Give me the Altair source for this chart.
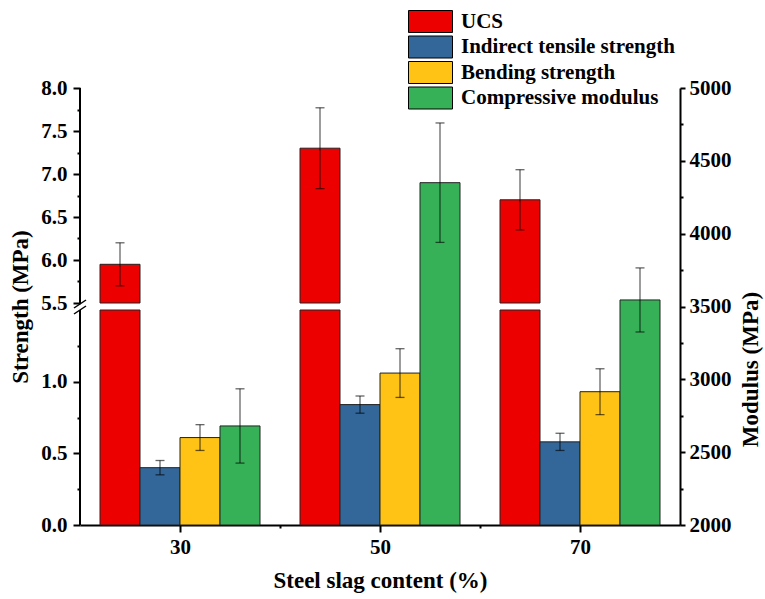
import altair as alt
import pandas as pd

# ---------------- data ----------------
categories = [30, 50, 70]
series_names = ["UCS", "Indirect tensile strength", "Bending strength", "Compressive modulus"]
series_colors = ["#EC0000", "#336699", "#FEC314", "#37B157"]

ucs_values = [5.95, 7.30, 6.70]
ucs_errors = [0.25, 0.47, 0.35]
tensile_values = [0.40, 0.84, 0.58]
tensile_errors = [0.05, 0.06, 0.06]
bending_values = [0.61, 1.06, 0.93]
bending_errors = [0.09, 0.17, 0.16]
modulus_values = [2680, 4350, 3545]
modulus_errors = [255, 410, 220]

strength_tick_labels = ["0.0", "0.5", "1.0", "5.5", "6.0", "6.5", "7.0", "7.5", "8.0"]
strength_minor_ticks = [0.25, 0.75, 1.25, 5.75, 6.25, 6.75, 7.25, 7.75]
modulus_ticks = [2000, 2500, 3000, 3500, 4000, 4500, 5000]
modulus_minor_ticks = [2250, 2750, 3250, 3750, 4250, 4750]
x_minor_ticks = [40, 60]
x_domain = [20, 80]
lower_range = [0.0, 1.5]
upper_range = [5.5, 8.0]
modulus_domain = [2000, 5000]

# ---------------- layout ----------------
W, H = 600, 437
SEG = 215
GAP = H - 2 * SEG
BAR = 4.0
K1 = SEG / (lower_range[1] - lower_range[0])
K2 = SEG / (upper_range[1] - upper_range[0])
FONT = "Liberation Serif"
AXIS_TEXT = dict(labelFont=FONT, labelFontSize=21, labelFontWeight="bold", labelColor="black",
                 titleFont=FONT, titleFontSize=23, titleFontWeight="bold", titleColor="black",
                 tickColor="black", tickWidth=2, domainColor="black", domainWidth=2, grid=False)


def disp_py(v):
    if v <= lower_range[1]:
        return (v - lower_range[0]) * K1
    return SEG + GAP + (v - upper_range[0]) * K2


def disp_expr(e):
    return (f"(({e}) <= {lower_range[1]} ? (({e}) - {lower_range[0]}) * {K1} : "
            f"{SEG + GAP} + (({e}) - {upper_range[0]}) * {K2})")


rows = []
for idx, (name, vals, errs) in enumerate(zip(series_names[:3],
                                             [ucs_values, tensile_values, bending_values],
                                             [ucs_errors, tensile_errors, bending_errors])):
    for c, v, e in zip(categories, vals, errs):
        rows.append(dict(cat=c, series=name, idx=idx, value=v, err=e))
sdf = pd.DataFrame(rows)

mdf = pd.DataFrame(dict(cat=categories, series=series_names[3], idx=3,
                        value=modulus_values, err=modulus_errors))

seg_df = pd.DataFrame(dict(x=[x_domain[0]] * 2,
                           y0=[disp_py(lower_range[0]), disp_py(upper_range[0])],
                           y1=[disp_py(lower_range[1]), disp_py(upper_range[1])]))
mid = (disp_py(lower_range[1]) + disp_py(upper_range[0])) / 2
px = (x_domain[1] - x_domain[0]) / W
brk_df = pd.DataFrame(dict(x0=[x_domain[0] - 6 * px] * 2, x1=[x_domain[0] + 6 * px] * 2,
                           y0=[mid - 1.5, mid - 7.5], y1=[mid + 6.5, mid + 0.5]))

xscale = alt.Scale(domain=x_domain, nice=False, zero=False)
yscale = alt.Scale(domain=[0, H], nice=False, zero=False)
mscale = alt.Scale(domain=modulus_domain, nice=False, zero=False)
cscale = alt.Scale(domain=series_names, range=series_colors)

legend = alt.Legend(title=None, orient="none", legendX=339, legendY=-78,
                    symbolType="M-2,-1H2V1H-2Z", symbolSize=484,
                    symbolStrokeColor="black", symbolStrokeWidth=1, symbolOpacity=1,
                    labelFont=FONT, labelFontSize=21, labelFontWeight="bold",
                    labelColor="black", labelOffset=19, rowPadding=-1.5, labelLimit=400)

# axes
major_disp = [disp_py(float(l)) for l in strength_tick_labels]
minor_disp = [disp_py(v) for v in strength_minor_ticks]
label_expr = "''"
for d, l in reversed(list(zip(major_disp, strength_tick_labels))):
    label_expr = f"abs(datum.value - {d}) < 0.01 ? '{l}' : ({label_expr})"

left_axis = alt.Axis(values=major_disp, labelExpr=label_expr, tickSize=7, orient="left",
                     domain=False, title="Strength (MPa)", labelPadding=6, titlePadding=8,
                     **AXIS_TEXT)
left_minor = alt.Axis(values=minor_disp, labels=False, tickSize=3, orient="left",
                      domain=False, title=None, **AXIS_TEXT)
right_axis = alt.Axis(values=modulus_ticks, format="d", tickSize=5, orient="right",
                      title="Modulus (MPa)", titleAngle=270, titleX=70, titleY=281,
                      titleAlign="center", titleBaseline="middle",
                      labelPadding=4, **AXIS_TEXT)
right_minor = alt.Axis(values=modulus_minor_ticks, labels=False, tickSize=3, orient="right",
                       domain=False, title=None, **AXIS_TEXT)
x_axis = alt.Axis(values=categories, format="d", tickSize=7, orient="bottom",
                  title="Steel slag content (%)", labelPadding=4, titlePadding=12, **AXIS_TEXT)
x_minor = alt.Axis(values=x_minor_ticks, labels=False, tickSize=3, orient="bottom",
                   domain=False, title=None, **AXIS_TEXT)

color = alt.Color("series:N", scale=cscale, legend=legend, sort=series_names)

# ---------------- strength (left, broken axis) ----------------
base_s = alt.Chart(sdf).transform_calculate(
    xc=f"datum.cat + (datum.idx - 1.5) * {BAR}",
    x0=f"datum.xc - {BAR / 2}",
    x1=f"datum.xc + {BAR / 2}",
    b0=disp_expr(f"{lower_range[0]}"),
    b1=disp_expr(f"min(datum.value, {lower_range[1]})"),
    u0=disp_expr(f"{upper_range[0]}"),
    u1=disp_expr("datum.value"),
    elo=disp_expr("datum.value - datum.err"),
    ehi=disp_expr("datum.value + datum.err"),
)

lower_bars = base_s.mark_rect(stroke="#222222", strokeWidth=1).encode(
    x=alt.X("x0:Q", scale=xscale, axis=x_axis), x2="x1:Q",
    y=alt.Y("b0:Q", scale=yscale, axis=left_axis), y2="b1:Q",
    color=color)
upper_bars = base_s.transform_filter(f"datum.value > {upper_range[0]}").mark_rect(
    stroke="#222222", strokeWidth=1).encode(
    x=alt.X("x0:Q", scale=xscale), x2="x1:Q",
    y=alt.Y("u0:Q", scale=yscale), y2="u1:Q",
    color=color)
err_rule = base_s.mark_rule(color="black", opacity=0.6, strokeWidth=1.3).encode(
    x=alt.X("xc:Q", scale=xscale),
    y=alt.Y("elo:Q", scale=yscale), y2="ehi:Q")
err_top = base_s.mark_tick(color="black", opacity=0.6, orient="horizontal", size=9, thickness=1.3).encode(
    x=alt.X("xc:Q", scale=xscale),
    y=alt.Y("ehi:Q", scale=yscale))
err_bot = base_s.mark_tick(color="black", opacity=0.6, orient="horizontal", size=9, thickness=1.3).encode(
    x=alt.X("xc:Q", scale=xscale),
    y=alt.Y("elo:Q", scale=yscale))
brk = alt.Chart(brk_df).mark_rule(color="black", strokeWidth=1.5).encode(
    x=alt.X("x0:Q", scale=xscale), x2="x1:Q",
    y=alt.Y("y0:Q", scale=yscale), y2="y1:Q")
strength_main = alt.layer(lower_bars, upper_bars, err_rule, err_top, err_bot, brk)

axis_segs = alt.Chart(seg_df).mark_rule(color="black", strokeWidth=2).encode(
    x=alt.X("x:Q", scale=xscale),
    y=alt.Y("y0:Q", scale=yscale, axis=left_minor), y2="y1:Q")

strength = alt.layer(strength_main, axis_segs).resolve_axis(y="independent")

# ---------------- modulus (right axis) ----------------
base_m = alt.Chart(mdf).transform_calculate(
    xc=f"datum.cat + (datum.idx - 1.5) * {BAR}",
    x0=f"datum.xc - {BAR / 2}",
    x1=f"datum.xc + {BAR / 2}",
    lo="datum.value - datum.err",
    hi="datum.value + datum.err",
    b0=f"{modulus_domain[0]}",
)
m_bars = base_m.mark_rect(stroke="#222222", strokeWidth=1).encode(
    x=alt.X("x0:Q", scale=xscale), x2="x1:Q",
    y=alt.Y("b0:Q", scale=mscale, axis=right_axis), y2="value:Q",
    color=color)
m_top = base_m.mark_tick(color="black", opacity=0.6, orient="horizontal", size=9, thickness=1.3).encode(
    x=alt.X("xc:Q", scale=xscale),
    y=alt.Y("hi:Q", scale=mscale))
m_bot = base_m.mark_tick(color="black", opacity=0.6, orient="horizontal", size=9, thickness=1.3).encode(
    x=alt.X("xc:Q", scale=xscale),
    y=alt.Y("lo:Q", scale=mscale))
modulus_main = alt.layer(m_bars, m_top, m_bot)

m_rule = base_m.mark_rule(color="black", opacity=0.6, strokeWidth=1.3).encode(
    x=alt.X("xc:Q", scale=xscale, axis=x_minor),
    y=alt.Y("lo:Q", scale=mscale, axis=right_minor), y2="hi:Q")

modulus = alt.layer(modulus_main, m_rule).resolve_axis(y="independent")

chart = alt.layer(strength, modulus).resolve_scale(y="independent").resolve_axis(
    x="independent").properties(
    width=W, height=H,
    autosize=alt.AutoSizeParams(type="none"),
    padding={"left": 80, "top": 88, "right": 85, "bottom": 74},
    background="white",
).configure_view(strokeWidth=0)

chart.save("out.html", embed_options={"renderer": "svg", "actions": False})
